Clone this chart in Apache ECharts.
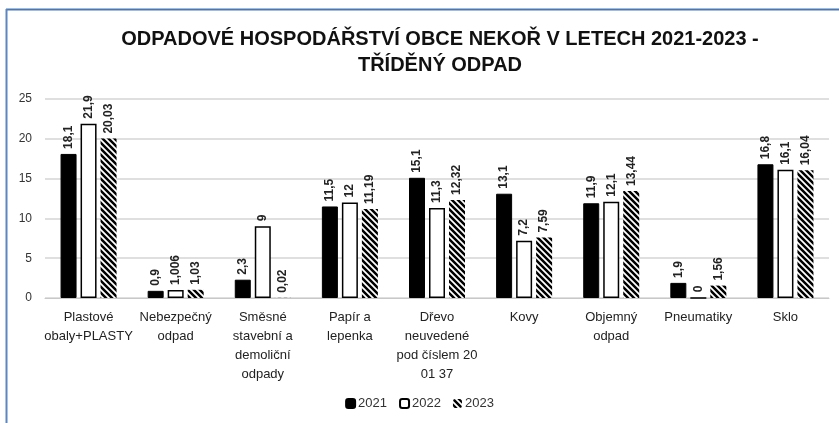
<!DOCTYPE html>
<html>
<head>
<meta charset="utf-8">
<script src="https://cdn.jsdelivr.net/npm/echarts@6/dist/echarts.min.js"></script>
<style>
  html, body { margin: 0; padding: 0; background: #fff; }
  #chart { width: 839px; height: 423px; }
</style>
</head>
<body>
<div id="chart"></div>
<script>
// Données du graphique
const categories = [
  'Plastové\nobaly+PLASTY', 'Nebezpečný\nodpad', 'Směsné\nstavební a\ndemoliční\nodpady',
  'Papír a\nlepenka', 'Dřevo\nneuvedené\npod číslem 20\n01 37', 'Kovy',
  'Objemný\nodpad', 'Pneumatiky', 'Sklo'
];
const years = ['2021', '2022', '2023'];
const values2021 = [18.1, 0.9, 2.3, 11.5, 15.1, 13.1, 11.9, 1.9, 16.8];
const values2022 = [21.9, 1.006, 9, 12, 11.3, 7.2, 12.1, 0, 16.1];
const values2023 = [20.03, 1.03, 0.02, 11.19, 12.32, 7.59, 13.44, 1.56, 16.04];
const yTicks = { min: 0, max: 25, interval: 5 };

const FONT = '"Liberation Sans", Arial, sans-serif';

// Motif hachuré pour 2023
function hatchPattern() {
  const c = document.createElement('canvas');
  c.width = 6; c.height = 6;
  const ctx = c.getContext('2d');
  ctx.fillStyle = '#fff';
  ctx.fillRect(0, 0, 6, 6);
  ctx.strokeStyle = '#000';
  ctx.lineWidth = 2.5;
  ctx.beginPath();
  ctx.moveTo(-3, 3); ctx.lineTo(3, 9);
  ctx.moveTo(0, 0); ctx.lineTo(6, 6);
  ctx.moveTo(3, -3); ctx.lineTo(9, 3);
  ctx.stroke();
  return c;
}
const hatch = { image: hatchPattern(), repeat: 'repeat' };

// Format décimal tchèque (virgule)
function fmt(v) {
  return String(v).replace('.', ',');
}

const labelStyle = {
  show: true,
  position: 'top',
  rotate: 90,
  align: 'left',
  verticalAlign: 'middle',
  distance: 5,
  fontFamily: FONT,
  fontSize: 12,
  fontWeight: 'bold',
  color: '#222',
  formatter: p => fmt(p.value)
};

const chart = echarts.init(document.getElementById('chart'));

const option = {
  animation: false,
  backgroundColor: '#fff',
  title: {
    text: 'ODPADOVÉ HOSPODÁŘSTVÍ OBCE NEKOŘ V LETECH 2021-2023 -\nTŘÍDĚNÝ ODPAD',
    left: 435,
    textAlign: 'center',
    top: 21,
    textStyle: {
      fontFamily: FONT,
      fontSize: 20,
      fontWeight: 'bold',
      color: '#111',
      lineHeight: 26
    }
  },
  legend: {
    bottom: 8,
    left: 'center',
    itemWidth: 9,
    itemHeight: 9,
    itemGap: 12,
    textStyle: { fontFamily: FONT, fontSize: 13, color: '#333', padding: [0, 0, 0, -2] },
    data: years
  },
  grid: { left: 45, right: 10, top: 99, bottom: 125, containLabel: false },
  xAxis: {
    type: 'category',
    data: categories,
    axisLine: { lineStyle: { color: '#c8c8c8', width: 1 } },
    axisTick: { show: false },
    axisLabel: {
      interval: 0,
      margin: 10,
      fontFamily: FONT,
      fontSize: 13,
      lineHeight: 19,
      color: '#222'
    }
  },
  yAxis: {
    type: 'value',
    min: yTicks.min,
    max: yTicks.max,
    interval: yTicks.interval,
    axisLine: { show: false },
    axisTick: { show: false },
    splitLine: { lineStyle: { color: '#d4d4d4', width: 1.5 } },
    axisLabel: { fontFamily: FONT, fontSize: 12, color: '#333', margin: 13 }
  },
  series: [
    {
      name: years[0], type: 'bar', data: values2021,
      barWidth: 16, barGap: '25%',
      itemStyle: { color: '#000', borderColor: '#000', borderWidth: 1 },
      label: labelStyle
    },
    {
      name: years[1], type: 'bar', data: values2022,
      barWidth: 16, barGap: '25%',
      itemStyle: { color: '#fff', borderColor: '#000', borderWidth: 1.5 },
      label: labelStyle
    },
    {
      name: years[2], type: 'bar', data: values2023,
      barWidth: 16, barGap: '25%',
      itemStyle: { color: hatch, borderWidth: 0 },
      label: labelStyle
    }
  ],
  graphic: [
    // Cadre bleu du graphique
    { type: 'line', shape: { x1: 6, y1: 9.5, x2: 839, y2: 9.5 }, style: { stroke: '#4a78b5', lineWidth: 2 }, silent: true },
    { type: 'line', shape: { x1: 6.5, y1: 9, x2: 6.5, y2: 423 }, style: { stroke: '#5c86be', lineWidth: 2 }, silent: true }
  ]
};

chart.setOption(option);
</script>
</body>
</html>
